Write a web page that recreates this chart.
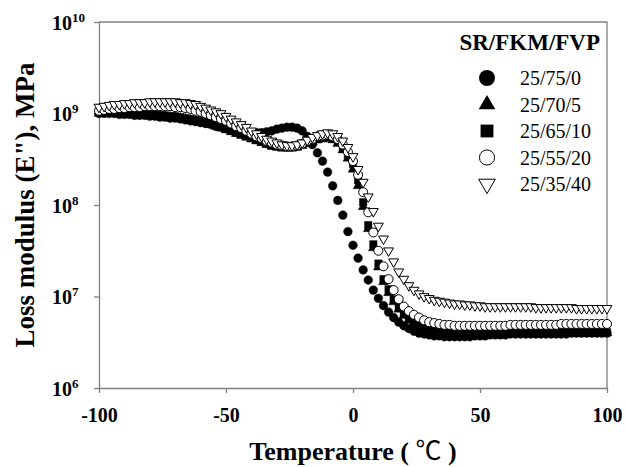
<!DOCTYPE html>
<html>
<head>
<meta charset="utf-8">
<script src="https://cdn.jsdelivr.net/npm/d3@7"></script>
<style>
  body { margin: 0; background: #fff; }
  svg text { font-family: "Liberation Serif", "DejaVu Serif", serif; fill: #000; }
  .axis path, .axis line, .frame { stroke: #808080; stroke-width: 1.3; fill: none; }
</style>
</head>
<body>
<script>
const width = 625,
  height = 467,
  margin = { top: 22, right: 18, bottom: 79, left: 99 };

// Temperature (°C) of each measured point
const temperature = [
  -100, -98, -96, -94, -92, -90, -88, -86, -84, -82,
  -80, -78, -76, -74, -72, -70, -68, -66, -64, -62,
  -60, -58, -56, -54, -52, -50, -48, -46, -44, -42,
  -40, -38, -36, -34, -32, -30, -28, -26, -24, -22,
  -20, -18, -16, -14, -12, -10, -8, -6, -4, -2,
  0, 2, 4, 6, 8, 10, 12, 14, 16, 18,
  20, 22, 24, 26, 28, 30, 32, 34, 36, 38,
  40, 42, 44, 46, 48, 50, 52, 54, 56, 58,
  60, 62, 64, 66, 68, 70, 72, 74, 76, 78,
  80, 82, 84, 86, 88, 90, 92, 94, 96, 98,
  100,
];

// log10 of loss modulus E'' (MPa)
const logE_25_75_0 = [
  9.0, 9.0, 9.0, 9.0, 8.99, 8.99, 8.99, 8.98, 8.98, 8.98,
  8.97, 8.97, 8.96, 8.96, 8.95, 8.95, 8.94, 8.93, 8.92, 8.91,
  8.9, 8.89, 8.88, 8.86, 8.85, 8.84, 8.83, 8.82, 8.81, 8.8,
  8.79, 8.79, 8.79, 8.8, 8.81, 8.83, 8.84, 8.85, 8.85, 8.84,
  8.81, 8.75, 8.66, 8.57, 8.48, 8.36, 8.21, 8.05, 7.89, 7.71,
  7.56, 7.42, 7.29, 7.18, 7.07, 6.98, 6.9, 6.83, 6.77, 6.72,
  6.68, 6.65, 6.62, 6.6, 6.59, 6.58, 6.57, 6.57, 6.56, 6.56,
  6.56, 6.56, 6.56, 6.56, 6.57, 6.57, 6.57, 6.58, 6.58, 6.58,
  6.58, 6.59, 6.59, 6.59, 6.59, 6.59, 6.59, 6.59, 6.59, 6.59,
  6.59, 6.59, 6.59, 6.6, 6.6, 6.6, 6.6, 6.6, 6.6, 6.6,
  6.6,
];
const logE_25_70_5 = [
  9.0, 9.0, 9.0, 9.0, 9.0, 8.99, 8.99, 8.99, 8.99, 8.98,
  8.98, 8.98, 8.97, 8.97, 8.96, 8.96, 8.95, 8.94, 8.93, 8.92,
  8.91, 8.9, 8.88, 8.86, 8.84, 8.82, 8.8, 8.78, 8.76, 8.74,
  8.72, 8.7, 8.68, 8.66, 8.64, 8.63, 8.62, 8.62, 8.62, 8.63,
  8.65, 8.67, 8.69, 8.71, 8.72, 8.73, 8.71, 8.67, 8.6, 8.51,
  8.39, 8.21, 7.98, 7.74, 7.53, 7.32, 7.16, 7.04, 6.94, 6.86,
  6.79, 6.74, 6.7, 6.67, 6.65, 6.63, 6.62, 6.61, 6.6, 6.6,
  6.6, 6.6, 6.6, 6.6, 6.6, 6.6, 6.6, 6.6, 6.6, 6.6,
  6.6, 6.6, 6.6, 6.6, 6.6, 6.6, 6.6, 6.6, 6.6, 6.6,
  6.6, 6.6, 6.6, 6.6, 6.6, 6.6, 6.6, 6.6, 6.6, 6.6,
  6.6,
];
const logE_25_65_10 = [
  9.01, 9.01, 9.01, 9.01, 9.01, 9.0, 9.0, 9.0, 9.0, 8.99,
  8.99, 8.99, 8.98, 8.98, 8.97, 8.97, 8.96, 8.95, 8.94, 8.93,
  8.92, 8.91, 8.89, 8.87, 8.85, 8.83, 8.81, 8.79, 8.77, 8.75,
  8.73, 8.71, 8.69, 8.67, 8.65, 8.64, 8.63, 8.63, 8.63, 8.64,
  8.66, 8.68, 8.7, 8.72, 8.73, 8.74, 8.73, 8.69, 8.63, 8.55,
  8.45, 8.27, 8.03, 7.78, 7.57, 7.36, 7.19, 7.08, 6.97, 6.88,
  6.81, 6.75, 6.71, 6.68, 6.66, 6.64, 6.63, 6.62, 6.61, 6.61,
  6.61, 6.61, 6.61, 6.61, 6.61, 6.61, 6.61, 6.61, 6.61, 6.61,
  6.61, 6.61, 6.61, 6.61, 6.61, 6.61, 6.61, 6.61, 6.61, 6.61,
  6.61, 6.61, 6.61, 6.61, 6.61, 6.61, 6.61, 6.61, 6.61, 6.61,
  6.61,
];
const logE_25_55_20 = [
  9.03, 9.04, 9.05, 9.05, 9.06, 9.06, 9.07, 9.07, 9.07, 9.08,
  9.08, 9.08, 9.08, 9.08, 9.08, 9.07, 9.07, 9.06, 9.05, 9.03,
  9.02, 9.0, 8.98, 8.96, 8.94, 8.92, 8.89, 8.86, 8.84, 8.81,
  8.78, 8.75, 8.73, 8.7, 8.68, 8.66, 8.65, 8.64, 8.64, 8.65,
  8.67, 8.7, 8.72, 8.75, 8.76, 8.77, 8.75, 8.72, 8.66, 8.58,
  8.48, 8.33, 8.14, 7.92, 7.7, 7.5, 7.33, 7.19, 7.07, 6.97,
  6.89, 6.84, 6.8, 6.77, 6.74, 6.72, 6.71, 6.7, 6.69, 6.69,
  6.68, 6.68, 6.68, 6.68, 6.68, 6.68, 6.68, 6.68, 6.68, 6.68,
  6.68, 6.69, 6.69, 6.69, 6.69, 6.69, 6.69, 6.69, 6.69, 6.69,
  6.69, 6.7, 6.7, 6.7, 6.7, 6.7, 6.7, 6.7, 6.7, 6.7,
  6.7,
];
const logE_25_35_40 = [
  9.07, 9.08, 9.09, 9.1, 9.1, 9.11, 9.11, 9.12, 9.12, 9.12,
  9.13, 9.13, 9.13, 9.13, 9.13, 9.13, 9.12, 9.12, 9.11, 9.1,
  9.08, 9.06, 9.04, 9.02, 9.0, 8.97, 8.94, 8.91, 8.88, 8.85,
  8.81, 8.78, 8.75, 8.72, 8.7, 8.68, 8.66, 8.65, 8.65, 8.66,
  8.68, 8.71, 8.74, 8.76, 8.78, 8.79, 8.78, 8.75, 8.7, 8.63,
  8.53, 8.39, 8.25, 8.09, 7.93, 7.77, 7.63, 7.5, 7.38, 7.27,
  7.19, 7.12, 7.07, 7.03, 7.0, 6.98, 6.96, 6.95, 6.94, 6.93,
  6.92, 6.92, 6.91, 6.91, 6.9, 6.9, 6.89, 6.89, 6.89, 6.89,
  6.89, 6.89, 6.89, 6.89, 6.89, 6.89, 6.88, 6.88, 6.88, 6.88,
  6.88, 6.88, 6.88, 6.88, 6.87, 6.87, 6.87, 6.87, 6.87, 6.87,
  6.87,
];

const seriesNames = ["25/75/0", "25/70/5", "25/65/10", "25/55/20", "25/35/40"];
const seriesValues = [logE_25_75_0, logE_25_70_5, logE_25_65_10, logE_25_55_20, logE_25_35_40];
const xTicks = [-100, -50, 0, 50, 100];
const yTickExponents = [6, 7, 8, 9, 10];

// Marker styles per series
const markers = [
  { type: d3.symbolCircle, size: 60, legendSize: 200, fill: "#000", rotate: 0 },
  { type: d3.symbolTriangle, size: 42, legendSize: 120, fill: "#000", rotate: 0 },
  { type: d3.symbolSquare, size: 56, legendSize: 165, fill: "#000", rotate: 0 },
  { type: d3.symbolCircle, size: 64, legendSize: 180, fill: "#fff", rotate: 0 },
  { type: d3.symbolTriangle, size: 42, legendSize: 120, fill: "#fff", rotate: 180 },
];

const x = d3
  .scaleLinear()
  .domain([-100, 100])
  .range([margin.left, width - margin.right]);

const y = d3
  .scaleLog()
  .domain([1e6, 1e10])
  .range([height - margin.bottom, margin.top]);

const svg = d3
  .select("body")
  .append("svg")
  .attr("width", width)
  .attr("height", height);

// Frame (top and right)
svg
  .append("path")
  .attr("class", "frame")
  .attr(
    "d",
    `M${margin.left},${margin.top}H${width - margin.right}V${height - margin.bottom}`
  );

// X axis, plain hyphen minus like the original
const xAxis = svg
  .append("g")
  .attr("class", "axis")
  .attr("transform", `translate(0,${height - margin.bottom})`)
  .call(
    d3
      .axisBottom(x)
      .tickValues(xTicks)
      .tickSize(5)
      .tickSizeOuter(0)
      .tickPadding(15)
      .tickFormat((d) => String(d))
  );
xAxis
  .selectAll("text")
  .style("font-size", "20px")
  .style("font-weight", "bold");

// Y axis with 10^n labels
const yAxis = svg
  .append("g")
  .attr("class", "axis")
  .attr("transform", `translate(${margin.left},0)`)
  .call(
    d3
      .axisLeft(y)
      .tickValues(yTickExponents.map((e) => Math.pow(10, e)))
      .tickSize(5)
      .tickSizeOuter(0)
      .tickFormat("")
  );
yAxis
  .selectAll(".tick")
  .append("text")
  .attr("x", -47)
  .attr("dy", "7")
  .attr("text-anchor", "start")
  .style("font-size", "20px")
  .style("font-weight", "bold")
  .text("10")
  .append("tspan")
  .attr("dy", "-8")
  .style("font-size", "13px")
  .text((d) => Math.round(Math.log10(d)));

// Axis titles
svg
  .append("text")
  .attr("transform", `translate(34,${(margin.top + height - margin.bottom) / 2}) rotate(-90)`)
  .attr("text-anchor", "middle")
  .style("font-size", "27px")
  .style("font-weight", "bold")
  .text('Loss modulus (E"), MPa');

const xTitle = svg
  .append("text")
  .attr("x", (margin.left + width - margin.right) / 2)
  .attr("y", 460)
  .attr("text-anchor", "middle")
  .style("font-size", "26px")
  .style("font-weight", "bold");
xTitle.append("tspan").text("Temperature ( ");
xTitle
  .append("tspan")
  .style("font-family", '"Noto Sans CJK JP", "Noto Sans CJK SC", sans-serif')
  .style("font-weight", "normal")
  .text("\u2103");
xTitle.append("tspan").text(" )");

// Data markers, later series drawn on top
seriesValues.forEach((vals, s) => {
  const m = markers[s];
  const symbol = d3.symbol().type(m.type).size(m.size);
  svg
    .append("g")
    .selectAll("path")
    .data(temperature.map((t, i) => [t, vals[i]]))
    .join("path")
    .attr("d", symbol)
    .attr(
      "transform",
      (d) => `translate(${x(d[0])},${y(Math.pow(10, d[1]))}) rotate(${m.rotate})`
    )
    .attr("fill", m.fill)
    .attr("stroke", "#000")
    .attr("stroke-width", m.fill === "#fff" ? 1 : 0.4);
});

// Legend
const legend = svg.append("g");
legend
  .append("text")
  .attr("x", 600)
  .attr("y", 50)
  .attr("text-anchor", "end")
  .style("font-size", "23px")
  .style("font-weight", "bold")
  .text("SR/FKM/FVP");

seriesNames.forEach((name, s) => {
  const m = markers[s];
  const rowY = 85 + s * 26.5;
  legend
    .append("path")
    .attr("d", d3.symbol().type(m.type).size(m.legendSize))
    .attr("transform", `translate(487,${rowY - 7}) rotate(${m.rotate})`)
    .attr("fill", m.fill)
    .attr("stroke", "#000")
    .attr("stroke-width", m.fill === "#fff" ? 1 : 0);
  legend
    .append("text")
    .attr("x", 520)
    .attr("y", rowY)
    .style("font-size", "20px")
    .text(name);
});
</script>
</body>
</html>
